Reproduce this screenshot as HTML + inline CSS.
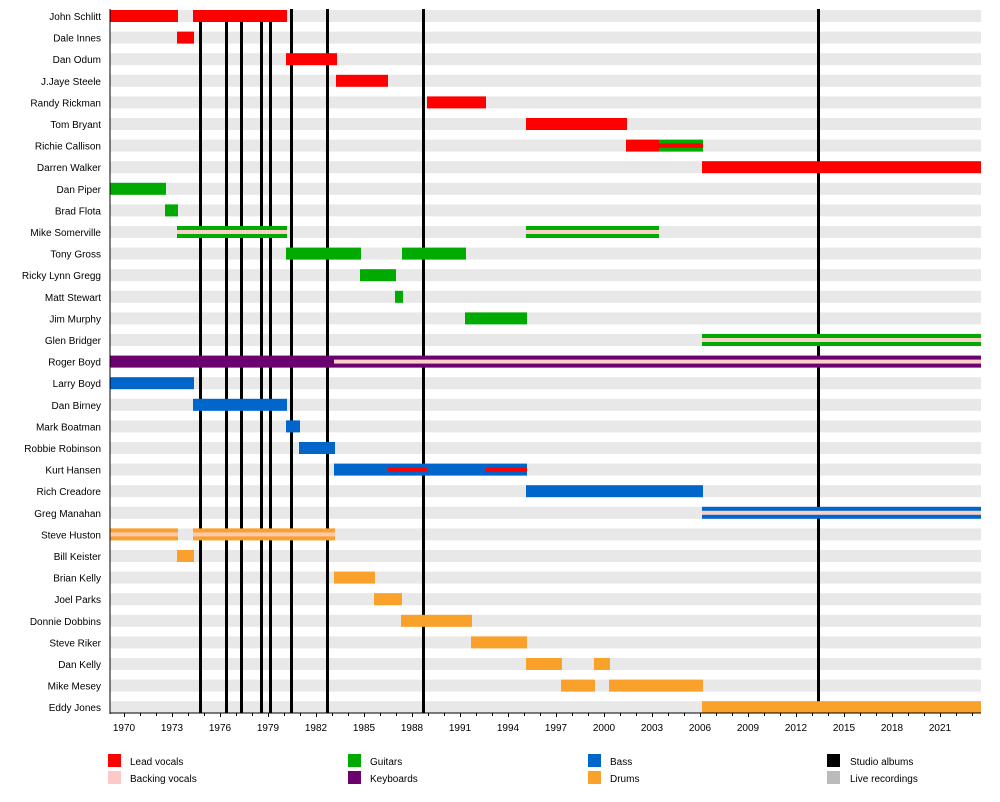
<!DOCTYPE html>
<html><head><meta charset="utf-8"><style>
html,body{margin:0;padding:0;background:#fff}
svg{display:block;font-family:"Liberation Sans",sans-serif}
</style></head><body>
<svg width="1000" height="802" viewBox="0 0 1000 802" xmlns="http://www.w3.org/2000/svg">
<defs>
<g id="st"><rect x="110" y="0" width="871" height="12" fill="#e8e8e8"/></g>
</defs>
<g font-size="10" text-anchor="end" fill="#000">
<g transform="translate(0,10)"><use href="#st"/><text x="101" y="10">John Schlitt</text></g>
<g transform="translate(0,31.6)"><use href="#st"/><text x="101" y="10">Dale Innes</text></g>
<g transform="translate(0,53.2)"><use href="#st"/><text x="101" y="10">Dan Odum</text></g>
<g transform="translate(0,74.8)"><use href="#st"/><text x="101" y="10">J.Jaye Steele</text></g>
<g transform="translate(0,96.4)"><use href="#st"/><text x="101" y="10">Randy Rickman</text></g>
<g transform="translate(0,118)"><use href="#st"/><text x="101" y="10">Tom Bryant</text></g>
<g transform="translate(0,139.6)"><use href="#st"/><text x="101" y="10">Richie Callison</text></g>
<g transform="translate(0,161.2)"><use href="#st"/><text x="101" y="10">Darren Walker</text></g>
<g transform="translate(0,182.8)"><use href="#st"/><text x="101" y="10">Dan Piper</text></g>
<g transform="translate(0,204.4)"><use href="#st"/><text x="101" y="10">Brad Flota</text></g>
<g transform="translate(0,226)"><use href="#st"/><text x="101" y="10">Mike Somerville</text></g>
<g transform="translate(0,247.6)"><use href="#st"/><text x="101" y="10">Tony Gross</text></g>
<g transform="translate(0,269.2)"><use href="#st"/><text x="101" y="10">Ricky Lynn Gregg</text></g>
<g transform="translate(0,290.8)"><use href="#st"/><text x="101" y="10">Matt Stewart</text></g>
<g transform="translate(0,312.4)"><use href="#st"/><text x="101" y="10">Jim Murphy</text></g>
<g transform="translate(0,334)"><use href="#st"/><text x="101" y="10">Glen Bridger</text></g>
<g transform="translate(0,355.6)"><use href="#st"/><text x="101" y="10">Roger Boyd</text></g>
<g transform="translate(0,377.2)"><use href="#st"/><text x="101" y="10">Larry Boyd</text></g>
<g transform="translate(0,398.8)"><use href="#st"/><text x="101" y="10">Dan Birney</text></g>
<g transform="translate(0,420.4)"><use href="#st"/><text x="101" y="10">Mark Boatman</text></g>
<g transform="translate(0,442)"><use href="#st"/><text x="101" y="10">Robbie Robinson</text></g>
<g transform="translate(0,463.6)"><use href="#st"/><text x="101" y="10">Kurt Hansen</text></g>
<g transform="translate(0,485.2)"><use href="#st"/><text x="101" y="10">Rich Creadore</text></g>
<g transform="translate(0,506.8)"><use href="#st"/><text x="101" y="10">Greg Manahan</text></g>
<g transform="translate(0,528.4)"><use href="#st"/><text x="101" y="10">Steve Huston</text></g>
<g transform="translate(0,550)"><use href="#st"/><text x="101" y="10">Bill Keister</text></g>
<g transform="translate(0,571.6)"><use href="#st"/><text x="101" y="10">Brian Kelly</text></g>
<g transform="translate(0,593.2)"><use href="#st"/><text x="101" y="10">Joel Parks</text></g>
<g transform="translate(0,614.8)"><use href="#st"/><text x="101" y="10">Donnie Dobbins</text></g>
<g transform="translate(0,636.4)"><use href="#st"/><text x="101" y="10">Steve Riker</text></g>
<g transform="translate(0,658)"><use href="#st"/><text x="101" y="10">Dan Kelly</text></g>
<g transform="translate(0,679.6)"><use href="#st"/><text x="101" y="10">Mike Mesey</text></g>
<g transform="translate(0,701.2)"><use href="#st"/><text x="101" y="10">Eddy Jones</text></g>
</g>
<!-- album lines -->
<g fill="#000">
<rect x="199" y="10" width="3" height="703"/>
<rect x="225" y="10" width="3" height="703"/>
<rect x="240" y="10" width="3" height="703"/>
<rect x="260" y="10" width="3" height="703"/>
<rect x="269" y="10" width="3" height="703"/>
<rect x="290" y="9" width="3" height="704"/>
<rect x="326" y="9" width="3" height="704"/>
<rect x="422" y="9" width="3" height="704"/>
<rect x="817" y="9" width="3" height="704"/>
</g>
<!-- bars -->
<g>
<rect x="110" y="10" width="68" height="12" fill="#f00"/><rect x="193" y="10" width="94" height="12" fill="#f00"/>
<rect x="177" y="31.6" width="17" height="12" fill="#f00"/>
<rect x="286" y="53.2" width="51" height="12" fill="#f00"/>
<rect x="336" y="74.8" width="52" height="12" fill="#f00"/>
<rect x="427" y="96.4" width="59" height="12" fill="#f00"/>
<rect x="526" y="118" width="101" height="12" fill="#f00"/>
<rect x="626" y="139.6" width="33" height="12" fill="#f00"/><rect x="659" y="139.6" width="44" height="12" fill="#00aa00"/><rect x="659" y="143.4" width="44" height="4.4" fill="#f00"/>
<rect x="702" y="161.2" width="279" height="12" fill="#f00"/>
<rect x="110" y="182.8" width="56" height="12" fill="#00aa00"/>
<rect x="165" y="204.4" width="13" height="12" fill="#00aa00"/>
<rect x="177" y="226" width="110" height="12" fill="#00aa00"/><rect x="177" y="230" width="110" height="4" fill="#f9d0c8"/>
<rect x="526" y="226" width="133" height="12" fill="#00aa00"/><rect x="526" y="230" width="133" height="4" fill="#f9d0c8"/>
<rect x="286" y="247.6" width="75" height="12" fill="#00aa00"/><rect x="402" y="247.6" width="64" height="12" fill="#00aa00"/>
<rect x="360" y="269.2" width="36" height="12" fill="#00aa00"/>
<rect x="395" y="290.8" width="8" height="12" fill="#00aa00"/>
<rect x="465" y="312.4" width="62" height="12" fill="#00aa00"/>
<rect x="702" y="334" width="279" height="12" fill="#00aa00"/><rect x="702" y="338" width="279" height="4" fill="#f9d0c8"/>
<rect x="110" y="355.6" width="871" height="12" fill="#6b006f"/><rect x="334" y="359.6" width="647" height="4" fill="#f9d0c8"/>
<rect x="110" y="377.2" width="84" height="12" fill="#0066cc"/>
<rect x="193" y="398.8" width="94" height="12" fill="#0066cc"/>
<rect x="286" y="420.4" width="14" height="12" fill="#0066cc"/>
<rect x="299" y="442" width="36" height="12" fill="#0066cc"/>
<rect x="334" y="463.6" width="193" height="12" fill="#0066cc"/><rect x="388" y="467.6" width="39" height="4" fill="#f00"/><rect x="486" y="467.6" width="41" height="4" fill="#f00"/>
<rect x="526" y="485.2" width="177" height="12" fill="#0066cc"/>
<rect x="702" y="506.8" width="279" height="12" fill="#0066cc"/><rect x="702" y="510.8" width="279" height="4" fill="#f9d0c8"/>
<rect x="110" y="528.4" width="68" height="12" fill="#f9a12b"/><rect x="110" y="532.4" width="68" height="4" fill="#fcc8b0"/>
<rect x="193" y="528.4" width="142" height="12" fill="#f9a12b"/><rect x="193" y="532.4" width="142" height="4" fill="#fcc8b0"/>
<rect x="177" y="550" width="17" height="12" fill="#f9a12b"/>
<rect x="334" y="571.6" width="41" height="12" fill="#f9a12b"/>
<rect x="374" y="593.2" width="28" height="12" fill="#f9a12b"/>
<rect x="401" y="614.8" width="71" height="12" fill="#f9a12b"/>
<rect x="471" y="636.4" width="56" height="12" fill="#f9a12b"/>
<rect x="526" y="658" width="36" height="12" fill="#f9a12b"/><rect x="594" y="658" width="16" height="12" fill="#f9a12b"/>
<rect x="561" y="679.6" width="34" height="12" fill="#f9a12b"/><rect x="609" y="679.6" width="94" height="12" fill="#f9a12b"/>
<rect x="702" y="701.2" width="279" height="12" fill="#f9a12b"/>
</g>
<!-- axes -->
<rect x="109.5" y="9" width="1" height="705" fill="#000"/>
<rect x="110" y="712.5" width="871" height="1" fill="#000"/>
<g stroke="#000" stroke-width="1">
<path d="M124.5 713v4M140.5 713v3M156.5 713v3M172.5 713v4M188.5 713v3M204.5 713v3M220.5 713v4M236.5 713v3M252.5 713v3M268.5 713v4M284.5 713v3M300.5 713v3M316.5 713v4M332.5 713v3M348.5 713v3M364.5 713v4M380.5 713v3M396.5 713v3M412.5 713v4M428.5 713v3M444.5 713v3M460.5 713v4M476.5 713v3M492.5 713v3M508.5 713v4M524.5 713v3M540.5 713v3M556.5 713v4M572.5 713v3M588.5 713v3M604.5 713v4M620.5 713v3M636.5 713v3M652.5 713v4M668.5 713v3M684.5 713v3M700.5 713v4M716.5 713v3M732.5 713v3M748.5 713v4M764.5 713v3M780.5 713v3M796.5 713v4M812.5 713v3M828.5 713v3M844.5 713v4M860.5 713v3M876.5 713v3M892.5 713v4M908.5 713v3M924.5 713v3M940.5 713v4M956.5 713v3M972.5 713v3"/>
</g>
<g font-size="10" text-anchor="middle" fill="#000">
<text x="124" y="731">1970</text><text x="172" y="731">1973</text><text x="220" y="731">1976</text><text x="268" y="731">1979</text><text x="316" y="731">1982</text><text x="364" y="731">1985</text><text x="412" y="731">1988</text><text x="460" y="731">1991</text><text x="508" y="731">1994</text><text x="556" y="731">1997</text><text x="604" y="731">2000</text><text x="652" y="731">2003</text><text x="700" y="731">2006</text><text x="748" y="731">2009</text><text x="796" y="731">2012</text><text x="844" y="731">2015</text><text x="892" y="731">2018</text><text x="940" y="731">2021</text>
</g>
<!-- legend -->
<g font-size="10" fill="#000">
<rect x="108" y="754" width="13" height="13" fill="#f00"/><text x="130" y="765">Lead vocals</text>
<rect x="108" y="771" width="13" height="13" fill="#fcc8c8"/><text x="130" y="782">Backing vocals</text>
<rect x="348" y="754" width="13" height="13" fill="#00aa00"/><text x="370" y="765">Guitars</text>
<rect x="348" y="771" width="13" height="13" fill="#6b006f"/><text x="370" y="782">Keyboards</text>
<rect x="588" y="754" width="13" height="13" fill="#0066cc"/><text x="610" y="765">Bass</text>
<rect x="588" y="771" width="13" height="13" fill="#f9a12b"/><text x="610" y="782">Drums</text>
<rect x="827" y="754" width="13" height="13" fill="#000"/><text x="850" y="765">Studio albums</text>
<rect x="827" y="771" width="13" height="13" fill="#bbb"/><text x="850" y="782">Live recordings</text>
</g>
</svg>
</body></html>
